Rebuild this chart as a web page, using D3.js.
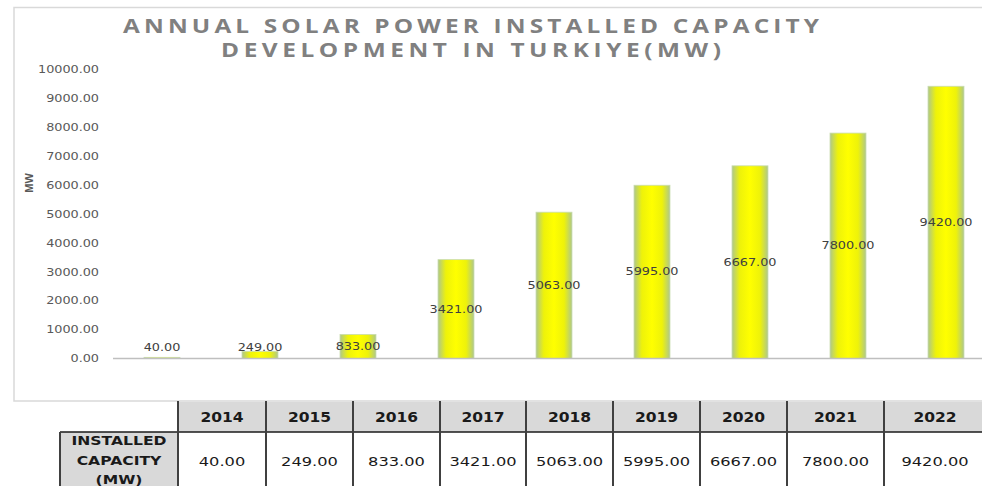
<!DOCTYPE html>
<html>
<head>
<meta charset="utf-8">
<script src="https://cdnjs.cloudflare.com/ajax/libs/d3/7.8.5/d3.min.js"></script>
<style>
  body { margin: 0; background: #fff; }
  svg { display: block; }
</style>
</head>
<body>
<div id="chart"></div>
<script>
// data
var years = ['2014', '2015', '2016', '2017', '2018', '2019', '2020', '2021', '2022'];
var capacity = [40, 249, 833, 3421, 5063, 5995, 6667, 7800, 9420];
var yTicks = [0, 1000, 2000, 3000, 4000, 5000, 6000, 7000, 8000, 9000, 10000];
var titleLines = ['ANNUAL SOLAR POWER INSTALLED CAPACITY', 'DEVELOPMENT IN TURKIYE(MW)'];
var yTitle = 'MW';
var rowLabel = ['INSTALLED', 'CAPACITY', '(MW)'];

(function() {
  var width = 982;
  var height = 486;

  // plot area
  var plot = { left: 113, right: 995, top: 69.5, bottom: 358.5 };

  // table column widths (the last ones are wider in the picture)
  var colW = [88, 87, 87, 86, 87, 87, 87, 97, 102];
  var tbl = { left: 60, first: 178, top: 401, headH: 31 };

  var fmt = d3.format('.2f');

  var svg = d3.select('#chart').append('svg')
    .attr('width', width).attr('height', height);

  // bar gradient: yellow in the middle, greenish at the edges
  var defs = svg.append('defs');
  var grad = defs.append('linearGradient').attr('id', 'barGrad')
    .attr('x1', '0%').attr('x2', '100%').attr('y1', '0%').attr('y2', '0%');
  grad.append('stop').attr('offset', '0%').attr('stop-color', '#aec88a');
  grad.append('stop').attr('offset', '22%').attr('stop-color', '#eef20a');
  grad.append('stop').attr('offset', '50%').attr('stop-color', '#ffff00');
  grad.append('stop').attr('offset', '78%').attr('stop-color', '#eef20a');
  grad.append('stop').attr('offset', '100%').attr('stop-color', '#aec88a');

  // chart frame
  svg.append('rect')
    .attr('x', 14).attr('y', 7.5)
    .attr('width', 1000).attr('height', 393.5)
    .attr('fill', '#fff').attr('stroke', '#d9d9d9').attr('stroke-width', 1.5);

  // title (wide letters, stretched a bit)
  var titleLen = [696, 500];
  var tScale = 1.25;
  svg.append('g').selectAll('text').data(titleLines).enter()
    .append('text')
    .attr('transform', function(d, i) {
      return 'translate(471,' + (33 + i * 24) + ') scale(' + tScale + ',1)';
    })
    .attr('text-anchor', 'middle')
    .attr('textLength', function(d, i) { return titleLen[i] / tScale; })
    .attr('lengthAdjust', 'spacing')
    .style('font-family', '"Open Sans", sans-serif')
    .style('font-weight', 'bold')
    .style('font-size', '19.5px')
    .style('fill', '#808080')
    .text(function(d) { return d; });

  // scales
  var xScale = d3.scaleBand().domain(years)
    .range([plot.left, plot.right])
    .paddingInner(0.633).paddingOuter(0.3165);
  var yScale = d3.scaleLinear().domain([0, 10000]).range([plot.bottom, plot.top]);

  // y axis (labels only)
  var yAxis = svg.append('g')
    .attr('transform', 'translate(99,0)')
    .call(d3.axisLeft(yScale).tickValues(yTicks).tickSize(0).tickPadding(0).tickFormat(fmt));
  yAxis.select('.domain').remove();
  yAxis.selectAll('text')
    .attr('transform', 'scale(1.28,1)')
    .style('font-family', '"DejaVu Sans", sans-serif')
    .style('font-size', '10px')
    .style('fill', '#595959');

  // y title
  svg.append('text')
    .attr('transform', 'translate(33,183) rotate(-90)')
    .attr('text-anchor', 'middle')
    .style('font-family', '"Liberation Sans Narrow", "Arial Narrow", sans-serif')
    .style('font-weight', 'bold')
    .style('font-size', '11px')
    .style('fill', '#595959')
    .text(yTitle);

  // bars
  var rows = years.map(function(y, i) { return { year: y, value: capacity[i] }; });

  svg.append('g').selectAll('rect').data(rows).enter()
    .append('rect')
    .attr('x', function(d) { return xScale(d.year); })
    .attr('y', function(d) { return yScale(d.value); })
    .attr('width', xScale.bandwidth())
    .attr('height', function(d) { return yScale(0) - yScale(d.value); })
    .attr('fill', 'url(#barGrad)')
    .attr('stroke', '#c9dcae')
    .attr('stroke-width', 0.8);

  // baseline
  svg.append('line')
    .attr('x1', plot.left).attr('x2', width)
    .attr('y1', yScale(0)).attr('y2', yScale(0))
    .attr('stroke', '#bfbfbf').attr('stroke-width', 1.5);

  // data labels, centered in the bar (small bars get lifted)
  svg.append('g').selectAll('text').data(rows).enter()
    .append('text')
    .attr('transform', function(d) {
      var cy = Math.min(yScale(d.value / 2), yScale(0) - 11);
      return 'translate(' + (xScale(d.year) + xScale.bandwidth() / 2) + ',' + cy + ') scale(1.28,1)';
    })
    .attr('dy', '0.35em')
    .attr('text-anchor', 'middle')
    .style('font-family', '"DejaVu Sans", sans-serif')
    .style('font-size', '10px')
    .style('fill', '#404040')
    .text(function(d) { return fmt(d.value); });

  // ---- table under the chart ----
  var colX = [tbl.first];
  colW.forEach(function(w, i) { colX.push(colX[i] + w); });
  var rowTop = tbl.top + tbl.headH;
  var tg = svg.append('g');

  // header background
  tg.append('rect')
    .attr('x', tbl.first).attr('y', tbl.top + 1)
    .attr('width', width - tbl.first).attr('height', tbl.headH - 1)
    .attr('fill', '#d9d9d9');

  // row label background
  tg.append('rect')
    .attr('x', tbl.left).attr('y', rowTop)
    .attr('width', tbl.first - tbl.left).attr('height', height - rowTop)
    .attr('fill', '#d9d9d9');

  // horizontal line under header
  tg.append('line')
    .attr('x1', tbl.left).attr('x2', width)
    .attr('y1', rowTop).attr('y2', rowTop)
    .attr('stroke', '#1a1a1a').attr('stroke-width', 1.5);

  // left edge of row label cell
  tg.append('line')
    .attr('x1', tbl.left).attr('x2', tbl.left)
    .attr('y1', rowTop).attr('y2', height)
    .attr('stroke', '#404040').attr('stroke-width', 2);

  // column lines
  tg.selectAll('line.col').data(colX.slice(0, colX.length - 1)).enter()
    .append('line').attr('class', 'col')
    .attr('x1', function(d) { return d; }).attr('x2', function(d) { return d; })
    .attr('y1', tbl.top).attr('y2', height)
    .attr('stroke', '#404040').attr('stroke-width', 2);

  // header years
  tg.selectAll('text.yr').data(years).enter()
    .append('text').attr('class', 'yr')
    .attr('transform', function(d, i) {
      return 'translate(' + (colX[i] + colW[i] / 2) + ',' + (tbl.top + 16) + ') scale(1.15,1)';
    })
    .attr('dy', '0.35em')
    .attr('text-anchor', 'middle')
    .style('font-family', '"DejaVu Sans", sans-serif')
    .style('font-weight', 'bold')
    .style('font-size', '13.5px')
    .style('fill', '#1a1a1a')
    .text(function(d) { return d; });

  // values
  tg.selectAll('text.val').data(capacity).enter()
    .append('text').attr('class', 'val')
    .attr('transform', function(d, i) {
      return 'translate(' + (colX[i] + colW[i] / 2) + ',' + 461 + ') scale(1.25,1)';
    })
    .attr('dy', '0.35em')
    .attr('text-anchor', 'middle')
    .style('font-family', '"DejaVu Sans", sans-serif')
    .style('font-size', '13px')
    .style('fill', '#1a1a1a')
    .text(function(d) { return fmt(d); });

  // row label
  tg.selectAll('text.lbl').data(rowLabel).enter()
    .append('text').attr('class', 'lbl')
    .attr('transform', function(d, i) {
      return 'translate(' + ((tbl.left + tbl.first) / 2) + ',' + (441 + i * 19.5) + ') scale(1.3,1)';
    })
    .attr('dy', '0.35em')
    .attr('text-anchor', 'middle')
    .style('font-family', '"DejaVu Sans", sans-serif')
    .style('font-weight', 'bold')
    .style('font-size', '12px')
    .style('fill', '#1a1a1a')
    .text(function(d) { return d; });
})();
</script>
</body>
</html>
